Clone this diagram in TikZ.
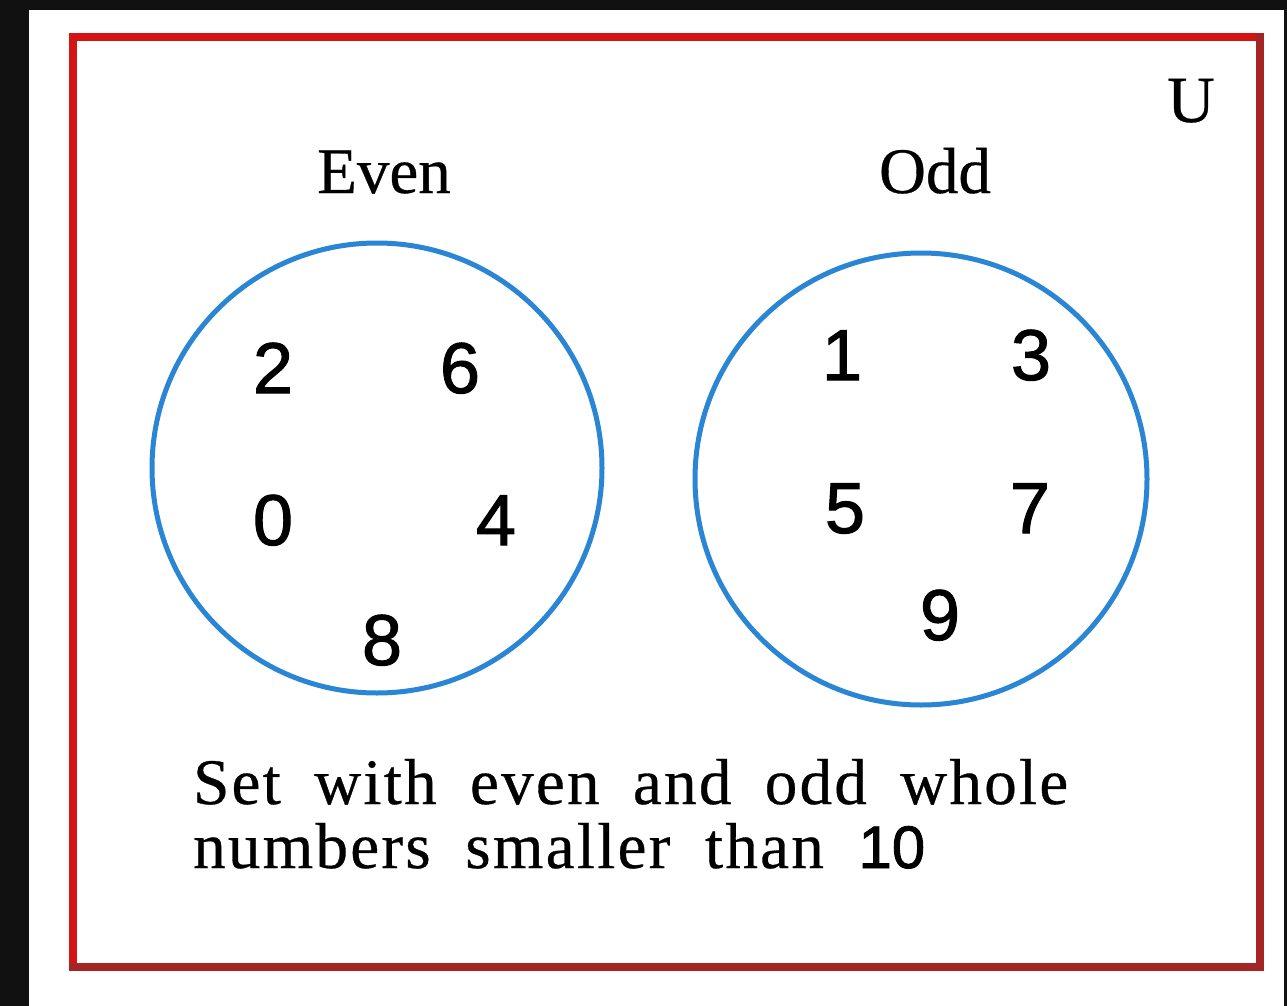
\documentclass[tikz,border=0pt]{standalone}
\usepackage{fontspec}
\setmainfont[FakeBold=0.5]{Liberation Serif}
\newfontfamily\digitfont[FakeBold=1.4]{Liberation Sans}
\newfontfamily\captfont[LetterSpace=3.5,FakeBold=0.5]{Liberation Serif}
\definecolor{framered}{HTML}{D41313}
\definecolor{framedark}{HTML}{A52424}
\definecolor{setblue}{HTML}{2A86D4}
\definecolor{margin}{HTML}{111111}
\begin{document}
\begin{tikzpicture}[x=1pt,y=-1pt,
  setcircle/.style={circle,draw=setblue,line width=5pt,inner sep=0pt,minimum size=#1},
  setlabel/.style={anchor=base,inner sep=0pt,font=\fontsize{65}{78}\selectfont},
  elem/.style={anchor=base,inner sep=0pt,font=\digitfont\fontsize{72}{80}\selectfont},
  captline/.style={anchor=base west,inner sep=0pt,font=\captfont\fontsize{65}{78}\selectfont}]
\useasboundingbox (0,0) rectangle (1287,1006);
\fill[margin] (0,0) rectangle (1287,1006);
\fill[white] (29,10) rectangle (1284,1006);
% frame (universal set)
\coordinate (tl) at (73,37.5);
\coordinate (tr) at (1260,37.5);
\coordinate (br) at (1260,966.5);
\coordinate (bl) at (73,966.5);
\draw[framered,line width=8pt,line cap=rect] (bl) -- (tl) -- (tr);
\draw[framedark,line width=8pt,line cap=rect] (tr) -- (br) -- (bl);
\node[anchor=base,inner sep=0pt,font=\fontsize{66}{78}\selectfont] (U) at (1191,122) {U};
% sets
\node[setcircle=450pt] (even) at (377,468) {};
\node[setcircle=452pt] (odd) at (921,479) {};
\node[setlabel] (evenlab) at (384,193) {Even};
\node[setlabel] (oddlab) at (935,193) {Odd};
% elements
\node[elem] (e2) at (273,393) {2};
\node[elem] (e6) at (460,393) {6};
\node[elem] (e0) at (273,545) {0};
\node[elem] (e4) at (496,545) {4};
\node[elem] (e8) at (382,665) {8};
\node[elem] (o1) at (842,380) {1};
\node[elem] (o3) at (1031,380) {3};
\node[elem] (o5) at (845,533) {5};
\node[elem] (o7) at (1030,533) {7};
\node[elem] (o9) at (940,640) {9};
% caption
\node[captline] (cap1) at (193,804) {\makebox[875pt][s]{Set with even and odd whole}};
\node[captline] (cap2) at (193,868) {\makebox[732pt][s]{numbers smaller than {\digitfont\fontsize{60}{70}\selectfont 10}}};
\end{tikzpicture}
\end{document}
